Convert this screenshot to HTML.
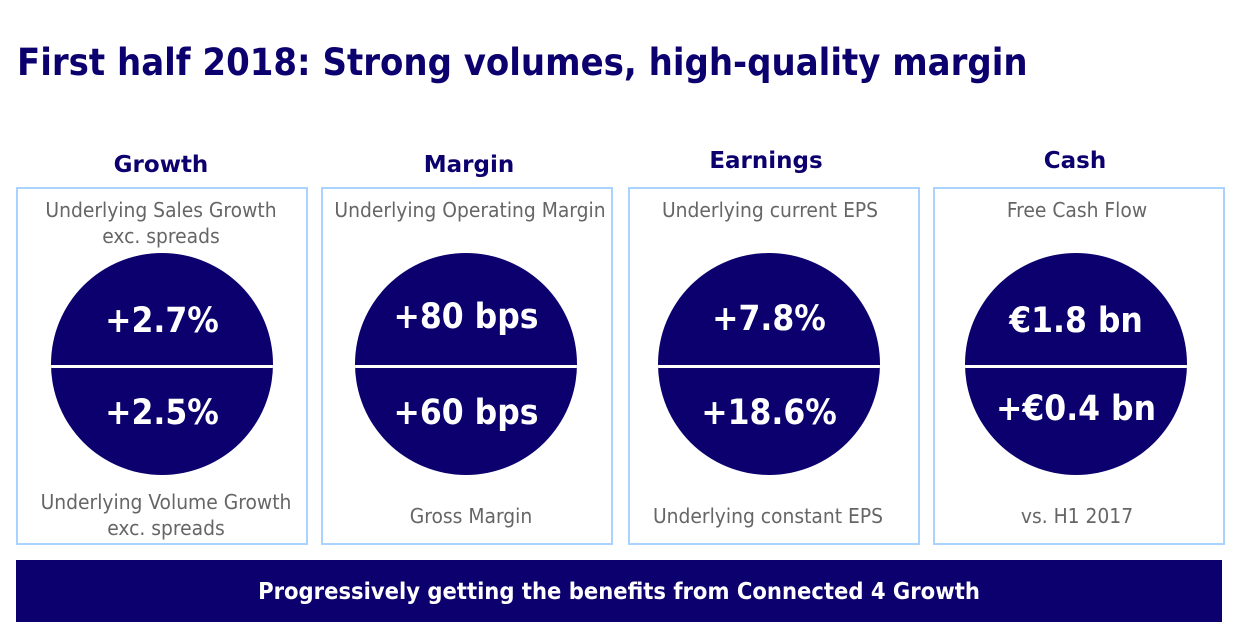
<!DOCTYPE html>
<html><head><meta charset="utf-8"><style>
body{margin:0;width:1240px;height:638px;background:#fff;position:relative;overflow:hidden;font-family:"DejaVu Sans","Liberation Sans",sans-serif}
.t{position:absolute;left:17px;top:40px;font-size:37.8px;font-weight:bold;color:#0b006e;white-space:nowrap;font-family:"DejaVu Sans Condensed","DejaVu Sans",sans-serif}
.h{position:absolute;font-size:23px;font-weight:bold;color:#0b006e;text-align:center;width:300px}
.box{position:absolute;top:187px;height:354px;width:288px;border:2px solid #aad4ff}
.g{position:absolute;width:300px;text-align:center;color:#666;font-size:20.8px;line-height:26px;font-family:"DejaVu Sans Condensed","DejaVu Sans",sans-serif}
.c{position:absolute;width:222px;height:222px;border-radius:50%;background:#0b006e;top:253px;overflow:hidden}
.c .l{position:absolute;left:0;right:0;top:112px;height:3px;background:#fff}
.c .v{position:absolute;left:0;right:0;text-align:center;color:#fff;font-weight:bold;font-size:35px;font-family:"DejaVu Sans Condensed","DejaVu Sans",sans-serif}
.ban{position:absolute;left:16px;top:560px;width:1206px;height:62px;background:#0b006e;color:#fff;font-weight:bold;font-size:23.5px;text-align:center;line-height:62px;font-family:"DejaVu Sans Condensed","DejaVu Sans",sans-serif}
</style></head><body>
<div class="t">First half 2018: Strong volumes, high-quality margin</div>

<div class="h" style="left:11px;top:152px">Growth</div>
<div class="h" style="left:319px;top:152px">Margin</div>
<div class="h" style="left:616px;top:148px">Earnings</div>
<div class="h" style="left:925px;top:148px">Cash</div>

<div class="box" style="left:16px"></div>
<div class="box" style="left:321px"></div>
<div class="box" style="left:628px"></div>
<div class="box" style="left:933px"></div>

<div class="g" style="left:11px;top:197px">Underlying Sales Growth<br>exc. spreads</div>
<div class="g" style="left:320px;top:197px">Underlying Operating Margin</div>
<div class="g" style="left:620px;top:197px">Underlying current EPS</div>
<div class="g" style="left:927px;top:197px">Free Cash Flow</div>

<div class="g" style="left:16px;top:489px">Underlying Volume Growth<br>exc. spreads</div>
<div class="g" style="left:321px;top:503px">Gross Margin</div>
<div class="g" style="left:618px;top:503px">Underlying constant EPS</div>
<div class="g" style="left:927px;top:503px">vs. H1 2017</div>

<div class="c" style="left:51px"><div class="v" style="top:48px">+2.7%</div><div class="l"></div><div class="v" style="top:140px">+2.5%</div></div>
<div class="c" style="left:355px"><div class="v" style="top:44px">+80 bps</div><div class="l"></div><div class="v" style="top:140px">+60 bps</div></div>
<div class="c" style="left:658px"><div class="v" style="top:46px">+7.8%</div><div class="l"></div><div class="v" style="top:140px">+18.6%</div></div>
<div class="c" style="left:965px"><div class="v" style="top:48px">€1.8 bn</div><div class="l"></div><div class="v" style="top:136px">+€0.4 bn</div></div>

<div class="ban">Progressively getting the benefits from Connected 4 Growth</div>
</body></html>
